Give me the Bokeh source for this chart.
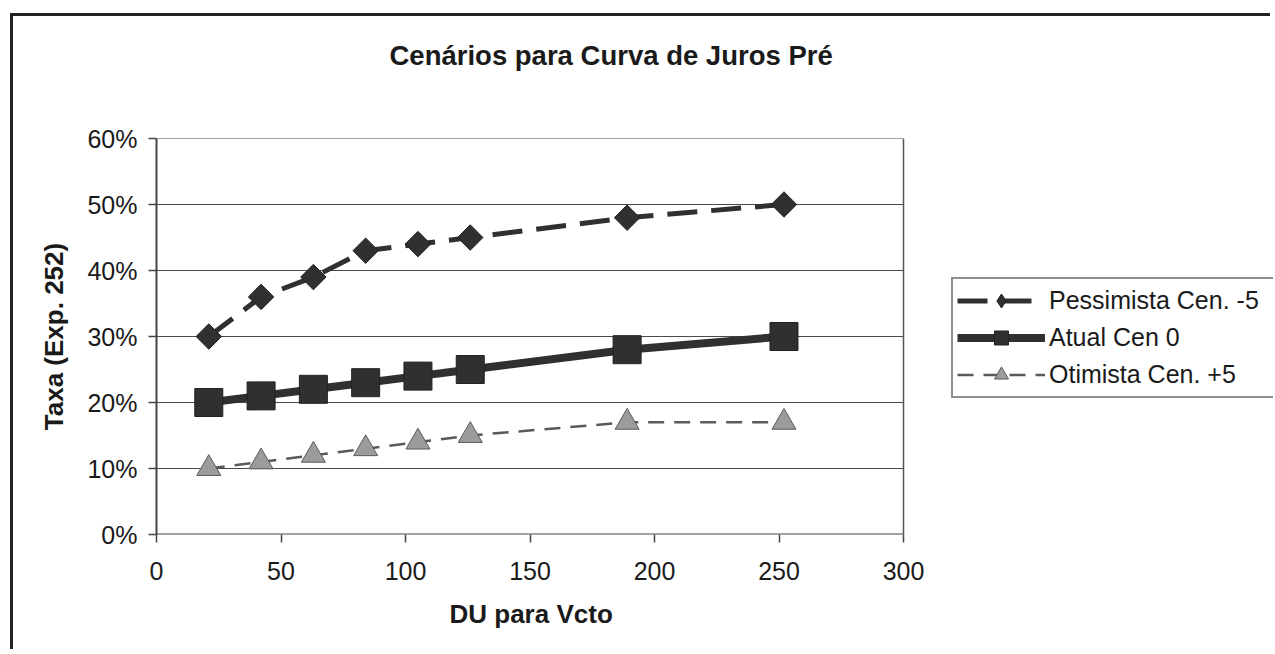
import numpy as np
from bokeh.plotting import figure
from bokeh.models import Legend, LegendItem, NumeralTickFormatter, FixedTicker, Range1d, Title
from bokeh.embed import file_html
from bokeh.resources import INLINE

# ---- data ----
du = [21, 42, 63, 84, 105, 126, 189, 252]
pessimista = [30, 36, 39, 43, 44, 45, 48, 50]
atual = [20, 21, 22, 23, 24, 25, 28, 30]
otimista = [10, 11, 12, 13, 14, 15, 17, 17]
names = ["Pessimista Cen. -5", "Atual Cen 0", "Otimista Cen. +5"]
title_text = "Cenários para Curva de Juros Pré"
x_label = "DU para Vcto"
y_label = "Taxa (Exp. 252)"
x_ticks = [0, 50, 100, 150, 200, 250, 300]
y_ticks = [0, 10, 20, 30, 40, 50, 60]

FONT = "Liberation Sans"
DARK = "#303030"
X_MAX = x_ticks[-1]
Y_MAX = y_ticks[-1] / 100

# the plotting frame is extended to the right so the legend can live inside it;
# the visible chart area (0..300) is outlined by hand
FRAME_W = 1260 - 143
X_END = FRAME_W * X_MAX / 747.0

p = figure(width=1260, height=636, output_backend="svg", toolbar_location=None,
           x_range=Range1d(0, X_END), y_range=Range1d(0, Y_MAX),
           min_border_left=143, min_border_right=0, min_border_top=122, min_border_bottom=118,
           title_location=None)
p.styles = {"border-top": "3px solid #222", "border-left": "3px solid #222",
            "margin-top": "13px", "margin-left": "10px"}

# spacer between the frame and the title (first added = nearest the frame)
spacer = Title(text=".", text_font=FONT, text_font_size="10px", text_color="white", standoff=58)
p.add_layout(spacer, "above")
main_title = Title(text=title_text, text_font=FONT, text_font_size="27.5px",
                   text_font_style="bold", text_color="#1a1a1a",
                   align="left", offset=233, standoff=0)
p.add_layout(main_title, "above")

p.background_fill_color = "white"
p.border_fill_color = "white"
p.outline_line_color = None
p.xgrid.grid_line_color = None
p.ygrid.grid_line_color = None

for ax in (p.xaxis[0], p.yaxis[0]):
    ax.axis_line_color = "#444444"
    ax.axis_line_width = 2
    ax.major_tick_line_color = "#444444"
    ax.major_tick_line_width = 1.5
    ax.major_tick_out = 8
    ax.major_tick_in = 0
    ax.minor_tick_line_color = None
    ax.major_label_text_font = FONT
    ax.major_label_text_font_size = "25px"
    ax.major_label_text_color = "#1a1a1a"
    ax.axis_label_text_font = FONT
    ax.axis_label_text_font_size = "26px"
    ax.axis_label_text_font_style = "bold"
    ax.axis_label_text_color = "#1a1a1a"

p.xaxis.axis_line_color = None
p.xaxis.axis_label = None
p.xaxis.ticker = FixedTicker(ticks=x_ticks)
p.yaxis.ticker = FixedTicker(ticks=[v / 100 for v in y_ticks])
p.yaxis.formatter = NumeralTickFormatter(format="0%")
p.yaxis.axis_label = y_label
p.xaxis.major_label_standoff = 19
p.yaxis.major_label_standoff = 11
p.yaxis.axis_label_standoff = 15

xt = Title(text=x_label, text_font=FONT, text_font_size="26px", text_font_style="bold",
           text_color="#1a1a1a", align="left", offset=293, standoff=28)
p.add_layout(xt, "below")

# hand-drawn horizontal grid, top edge, right edge and bottom axis line
grid_y = [v / 100 for v in y_ticks[1:]]
p.segment(x0=[0] * len(grid_y), y0=grid_y, x1=[X_MAX] * len(grid_y), y1=grid_y,
          line_color="#4a4a4a", line_width=1.2)
p.segment(x0=[X_MAX], y0=[0], x1=[X_MAX], y1=[Y_MAX], line_color="#555555", line_width=1.5)
p.segment(x0=[0], y0=[0], x1=[X_MAX], y1=[0], line_color="#444444", line_width=2)

pes = [v / 100 for v in pessimista]
atu = [v / 100 for v in atual]
oti = [v / 100 for v in otimista]

# Pessimista
l1 = p.line(du, pes, line_color=DARK, line_width=5, line_dash="30 14")
m1 = p.scatter(du, pes, marker="square", angle=np.pi / 4, size=18,
               fill_color=DARK, line_color="#222222", line_width=1)
m1_leg = p.scatter(du, pes, marker="diamond", size=20, visible=False,
                   fill_color=DARK, line_color="#222222", line_width=1)
# Atual
l2 = p.line(du, atu, line_color=DARK, line_width=8)
m2 = p.scatter(du, atu, marker="square", size=28,
               fill_color=DARK, line_color="#222222", line_width=1)
# Otimista
l3 = p.line(du, oti, line_color="#5a5a5a", line_width=2.5, line_dash="16 10")
m3 = p.scatter(du, oti, marker="triangle", size=24,
               fill_color="#9c9c9c", line_color="#5a5a5a", line_width=1)

legend = Legend(items=[LegendItem(label=names[0], renderers=[l1, m1_leg]),
                       LegendItem(label=names[1], renderers=[l2, m2]),
                       LegendItem(label=names[2], renderers=[l3, m3])],
                location=(795, 136))
legend.label_text_font = FONT
legend.label_text_font_size = "25px"
legend.label_text_color = "#1a1a1a"
legend.border_line_color = "#222222"
legend.border_line_width = 2
legend.background_fill_color = "white"
legend.background_fill_alpha = 1
legend.inactive_fill_alpha = 0
legend.padding = 4
legend.spacing = 2
legend.margin = 0
legend.label_height = 35
legend.glyph_height = 35
legend.glyph_width = 88
legend.label_standoff = 4
legend.label_width = 240
p.add_layout(legend, "center")

open("out.html", "w").write(file_html(p, INLINE))
